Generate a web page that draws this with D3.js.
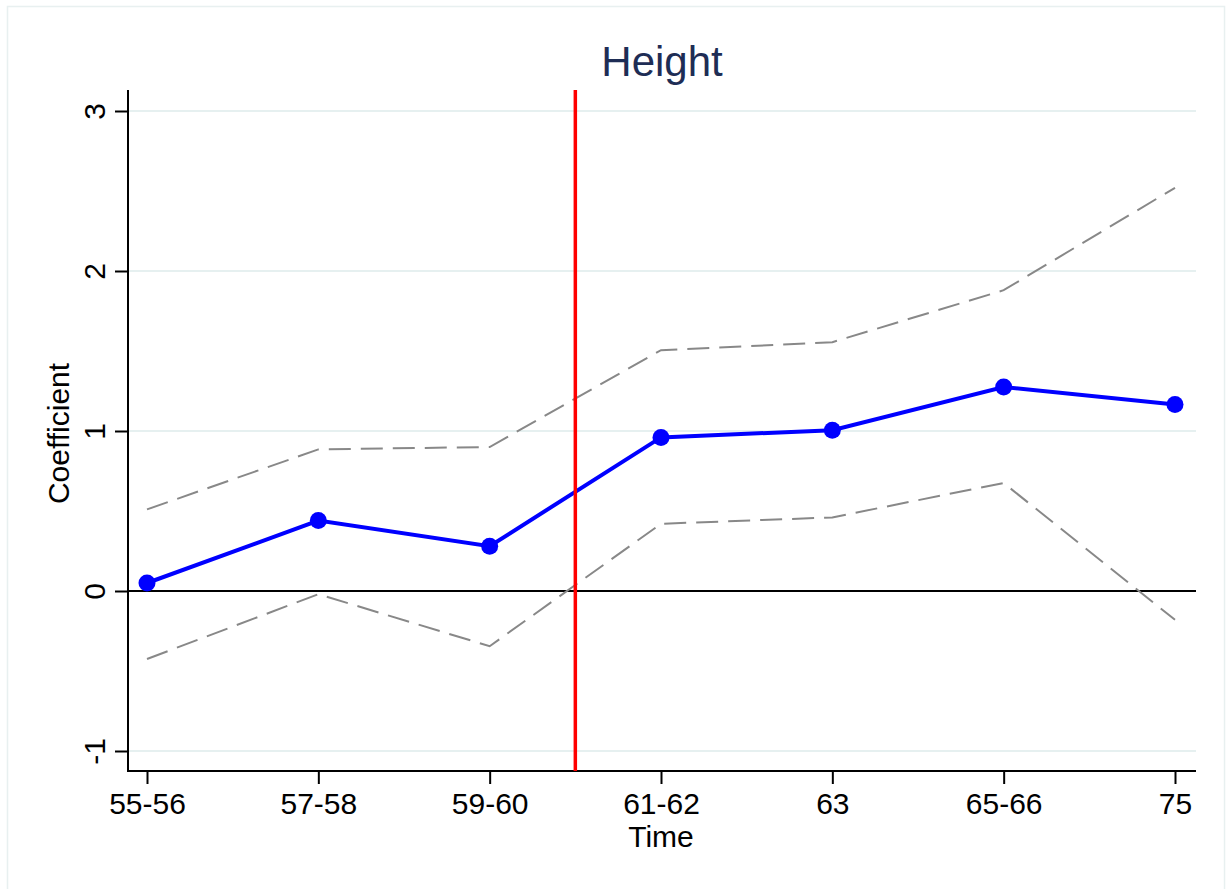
<!DOCTYPE html>
<html>
<head>
<meta charset="utf-8">
<script src="https://cdn.jsdelivr.net/npm/d3@7"></script>
<style>
  body { margin: 0; background: #fff; }
  text { font-family: "Liberation Sans", Arial, Helvetica, sans-serif; }
</style>
</head>
<body>
<svg id="chart" width="1226" height="889"></svg>
<script>
const periods = ["55-56", "57-58", "59-60", "61-62", "63", "65-66", "75"];
const coef = [0.05, 0.44, 0.28, 0.96, 1.005, 1.275, 1.165];
const upper = [0.51, 0.885, 0.9, 1.505, 1.555, 1.88, 2.52];
const lower = [-0.425, -0.02, -0.345, 0.42, 0.46, 0.675, -0.18];
const yTicks = [-1, 0, 1, 2, 3];
const reformAt = 2.5; // between 59-60 and 61-62

const svg = d3.select("#chart");

// --- outer frame ---
svg.append("rect")
  .attr("x", 7.5).attr("y", 6.5)
  .attr("width", 1217).attr("height", 890)
  .attr("fill", "white")
  .attr("stroke", "#e8f0f0")
  .attr("stroke-width", 1.5);

// --- plot area ---
const plotL = 128, plotR = 1196, plotT = 90, plotB = 771;
const x = d3.scaleLinear().domain([0, periods.length - 1]).range([147, 1175]);
const y = d3.scaleLinear().domain([-1, 3]).range([751, 111]);

// gridlines
svg.append("g")
  .selectAll("line")
  .data(yTicks)
  .join("line")
  .attr("x1", plotL + 1).attr("x2", plotR)
  .attr("y1", (d) => y(d)).attr("y2", (d) => y(d))
  .attr("stroke", "#e6f0f0")
  .attr("stroke-width", 2);

// zero line
svg.append("line")
  .attr("x1", plotL).attr("x2", plotR)
  .attr("y1", y(0)).attr("y2", y(0))
  .attr("stroke", "black")
  .attr("stroke-width", 1.8);

// --- axes ---
const yAxis = svg.append("g")
  .attr("transform", `translate(${plotL},0)`)
  .call(d3.axisLeft(y).tickValues(yTicks).tickSize(13).tickFormat((d) => String(d)));
yAxis.select(".domain").remove();
yAxis.append("line")
  .attr("x1", 0).attr("x2", 0)
  .attr("y1", plotT).attr("y2", plotB + 1)
  .attr("stroke", "black").attr("stroke-width", 2);
yAxis.selectAll(".tick line").attr("stroke-width", 2);
// rotated tick labels, as Stata draws them
yAxis.selectAll(".tick text")
  .attr("font-size", 30)
  .attr("fill", "black")
  .attr("text-anchor", "middle")
  .attr("transform", "rotate(-90)")
  .attr("x", 0)
  .attr("y", -23)
  .attr("dy", 0);

const xAxis = svg.append("g")
  .attr("transform", `translate(0,${plotB})`)
  .call(d3.axisBottom(x).tickValues(d3.range(periods.length)).tickSize(13).tickPadding(9)
    .tickFormat((i) => periods[i]));
xAxis.select(".domain").remove();
xAxis.append("line")
  .attr("x1", plotL - 1).attr("x2", plotR)
  .attr("y1", 0).attr("y2", 0)
  .attr("stroke", "black").attr("stroke-width", 2);
xAxis.selectAll(".tick line").attr("stroke-width", 2);
xAxis.selectAll(".tick text")
  .attr("font-size", 30)
  .attr("fill", "black");

// axis titles
svg.append("text")
  .attr("x", (x(0) + x(periods.length - 1)) / 2)
  .attr("y", 847)
  .attr("text-anchor", "middle")
  .attr("font-size", 30)
  .text("Time");

svg.append("text")
  .attr("transform", `translate(69,${(plotT + plotB) / 2 + 3}) rotate(-90)`)
  .attr("text-anchor", "middle")
  .attr("font-size", 30)
  .text("Coefficient");

// title
svg.append("text")
  .attr("x", 662)
  .attr("y", 76)
  .attr("text-anchor", "middle")
  .attr("font-size", 42)
  .attr("fill", "#1e2d55")
  .text("Height");

// --- confidence bounds ---
const line = d3.line().x((d, i) => x(i)).y((d) => y(d));
[upper, lower].forEach((band) => {
  svg.append("path")
    .datum(band)
    .attr("d", line)
    .attr("fill", "none")
    .attr("stroke", "#888888")
    .attr("stroke-width", 2)
    .attr("stroke-dasharray", "22,10");
});

// --- coefficient line ---
svg.append("path")
  .datum(coef)
  .attr("d", line)
  .attr("fill", "none")
  .attr("stroke", "#0000ff")
  .attr("stroke-width", 4);

svg.append("g")
  .selectAll("circle")
  .data(coef)
  .join("circle")
  .attr("cx", (d, i) => x(i))
  .attr("cy", (d) => y(d))
  .attr("r", 8.5)
  .attr("fill", "#0000ff");

// --- reform line ---
svg.append("line")
  .attr("x1", x(reformAt)).attr("x2", x(reformAt))
  .attr("y1", plotT).attr("y2", plotB)
  .attr("stroke", "#ff0000")
  .attr("stroke-width", 3.5);
</script>
</body>
</html>
